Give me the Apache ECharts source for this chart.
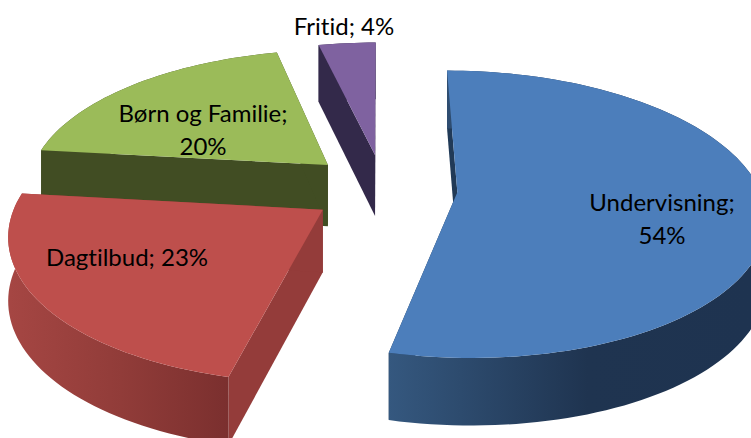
<!DOCTYPE html>
<html>
<head>
<meta charset="utf-8">
<style>
  html, body { margin: 0; background: #fff; }
  #chart { width: 751px; height: 438px; overflow: hidden; }
  #chart text { font-variant-ligatures: none !important; }
</style>
<script src="https://cdn.jsdelivr.net/npm/echarts@6/dist/echarts.min.js"></script>
</head>
<body>
<div id="chart"></div>
<script>
const categories = ["Undervisning", "Dagtilbud", "Børn og Familie", "Fritid"];
// labels round these to 54, 23, 20, 4
const shares = [53.7, 23.1, 19.6, 3.6];

// look of the slices, same order as categories
const topColors = ["#4c7ebb", "#be4f4c", "#9bbb59", "#7f62a0"];
const edgeColors = ["#213a57", "#943c3a", "#414d23", "#33294a"];
const rimStops = [
  [[0, "#35587f"], [0.55, "#1f3450"], [1, "#1e3350"]],
  [[0, "#a54643"], [0.5, "#913c39"], [1, "#7a2f2e"]],
  [[0, "#414d23"], [1, "#414d23"]],
  [[0, "#33294a"], [1, "#33294a"]]
];
const rimRange = [[388, 751], [10, 232], [42, 330], [316, 375]];
const explodeX = [0.255, -0.185, -0.177, -0.017];
const explodeY = [0.03, 0.152, -0.17, -0.246];
const labelLines = [2, 1, 2, 1];
const labelPos = [[662, 218], [127, 256], [203, 129], [344, 25]];

// disc projection
const CX = 380, CY = 188, RX = 302, RY = 139, PERSP = 0.153, DEPTH = 62;

const total = shares.reduce((a, b) => a + b, 0);
let acc = 0;
const slices = shares.map((v, i) => {
  const start = (acc / total) * Math.PI * 2;
  acc += v;
  const end = (acc / total) * Math.PI * 2;
  return { start, end, ox: explodeX[i], oy: explodeY[i] };
});
const drawOrder = slices
  .map((s, i) => i)
  .sort((a, b) => slices[a].oy - slices[b].oy);

function project(a, b, z) {
  const w = 1 / (1 - PERSP * b);
  return [CX + RX * a * w, CY + RY * b * w + z * DEPTH * Math.sqrt(w)];
}

function arc(s, z) {
  const pts = [];
  const n = Math.ceil((s.end - s.start) / 0.03);
  for (let k = 0; k <= n; k++) {
    const t = s.start + ((s.end - s.start) * k) / n;
    pts.push(project(s.ox + Math.sin(t), s.oy - Math.cos(t), z));
  }
  return pts;
}

function edge(s, t) {
  const inTop = project(s.ox, s.oy, 0);
  const inLow = project(s.ox, s.oy, 1);
  const outTop = project(s.ox + Math.sin(t), s.oy - Math.cos(t), 0);
  const outLow = project(s.ox + Math.sin(t), s.oy - Math.cos(t), 1);
  return [inTop, outTop, outLow, inLow];
}

function renderItem(params, api) {
  const i = api.value(0);
  const s = slices[i];
  const apex = project(s.ox, s.oy, 0);
  const top = arc(s, 0);
  const low = arc(s, 1).reverse();
  const rimFill = new echarts.graphic.LinearGradient(
    rimRange[i][0], 0, rimRange[i][1], 0,
    rimStops[i].map(p => ({ offset: p[0], color: p[1] })),
    true
  );
  const pct = Math.round(shares[i]) + "%";
  const label = categories[i] + (labelLines[i] === 2 ? ";\n" : "; ") + pct;
  return {
    type: "group",
    children: [
      { type: "polygon", shape: { points: edge(s, s.start) }, style: { fill: edgeColors[i] } },
      { type: "polygon", shape: { points: edge(s, s.end) }, style: { fill: edgeColors[i] } },
      { type: "polygon", shape: { points: top.concat(low) }, style: { fill: rimFill } },
      { type: "polygon", shape: { points: [apex].concat(top) }, style: { fill: topColors[i] } },
      {
        type: "text",
        x: labelPos[i][0],
        y: labelPos[i][1],
        z2: 10,
        style: {
          text: label,
          fill: "#000",
          font: "24px Lato",
          lineHeight: 33,
          align: "center",
          verticalAlign: "middle"
        }
      }
    ]
  };
}

const chart = echarts.init(document.getElementById("chart"), null, { renderer: "svg" });
chart.setOption({
  animation: false,
  backgroundColor: "#fff",
  series: [
    {
      type: "custom",
      coordinateSystem: "none",
      silent: true,
      clip: false,
      renderItem,
      data: drawOrder.map(i => [i])
    }
  ]
});
</script>
</body>
</html>
